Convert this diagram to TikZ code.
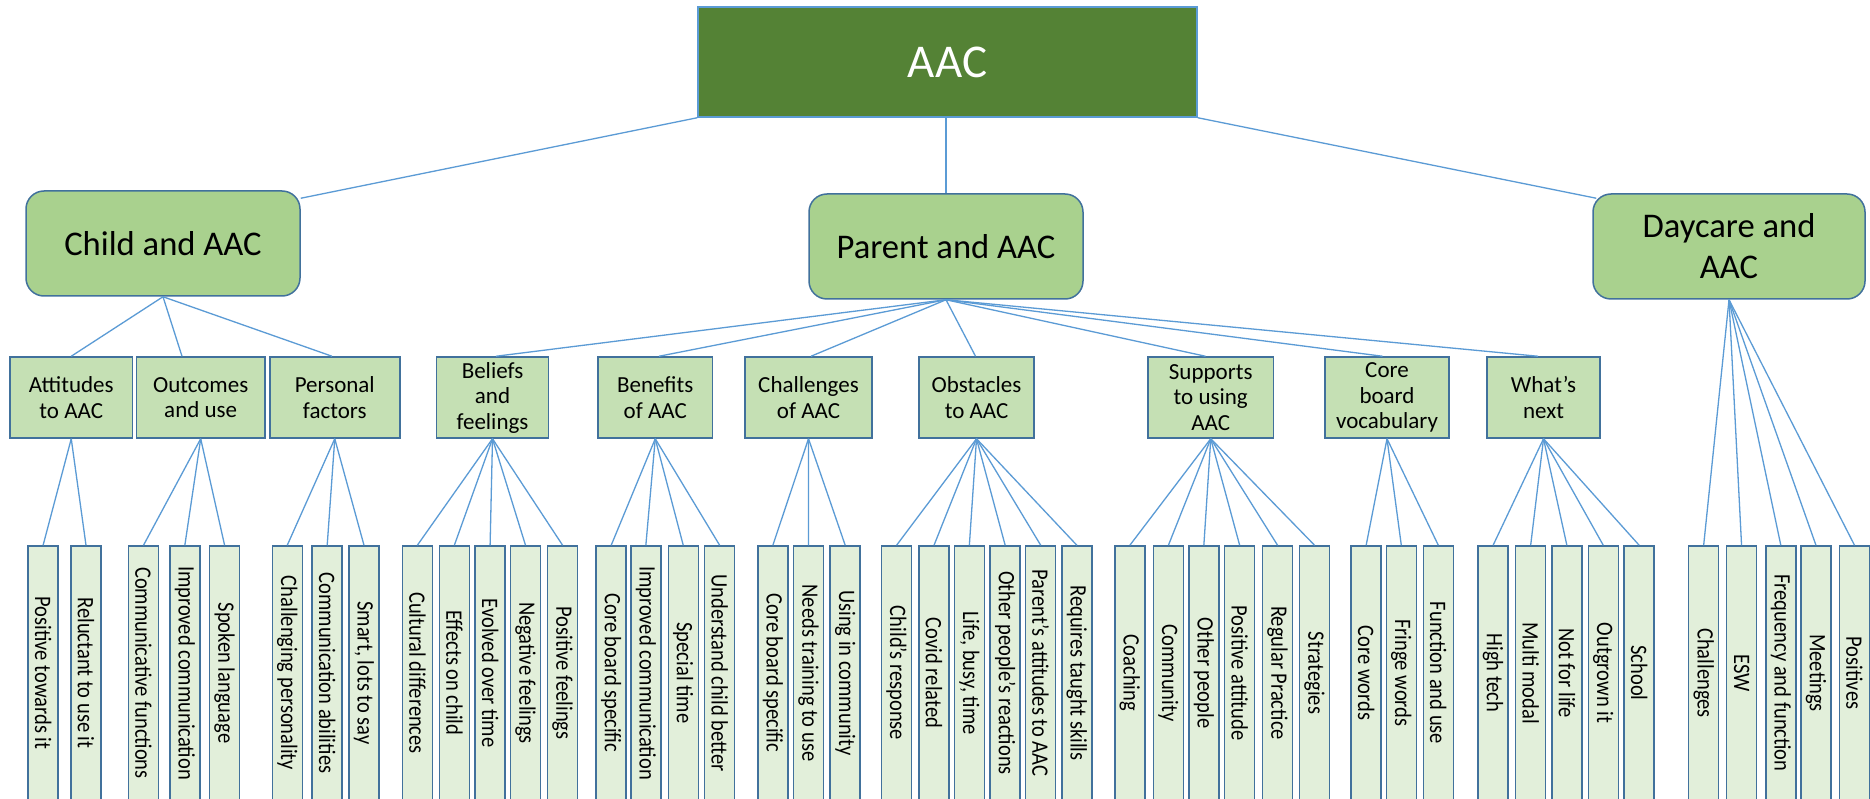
\documentclass[tikz,border=0pt]{standalone}
\usepackage{fontspec}
\setmainfont{Carlito}
\definecolor{rootg}{HTML}{548235}
\definecolor{lvone}{HTML}{A9D18E}
\definecolor{lvtwo}{HTML}{C5E0B4}
\definecolor{lvthree}{HTML}{E2EFDA}
\definecolor{bord}{HTML}{41719C}
\definecolor{conn}{HTML}{5B9BD5}
\begin{document}
\begin{tikzpicture}[x=1pt,y=-1pt,
  rootbox/.style={draw=conn, fill=rootg, line width=1.5pt, minimum width=499pt, minimum height=110pt, inner sep=0pt, text=white, font=\fontsize{47}{56}\selectfont},
  topicbox/.style={draw=bord, fill=lvone, line width=1.5pt, rounded corners=18pt, minimum width=274pt, minimum height=105pt, inner sep=0pt, align=center, font=\fontsize{34.6}{41}\selectfont},
  subbox/.style={draw=bord, fill=lvtwo, line width=1.5pt, minimum height=81pt, inner sep=0pt, align=center, font=\fontsize{23}{25.5}\selectfont},
  leafbox/.style={draw=bord, fill=lvthree, line width=1.5pt, rotate=-90, minimum width=254pt, minimum height=30pt, inner sep=0pt, font=\fontsize{20.5}{24}\selectfont},
  link/.style={draw=conn, line width=1.3pt}
]
\useasboundingbox (0,0) rectangle (1870,799);
\fill[white] (0,0) rectangle (1870,799);
\clip (0,0) rectangle (1870,799);

% root and first level
\node[rootbox] (root) at (947.5,62) {AAC};
\node[topicbox] (child) at (163,243.5) {Child and AAC};
\node[topicbox] (parent) at (946,246.5) {Parent and AAC};
\node[topicbox, minimum width=272pt] (daycare) at (1729,246.5) {Daycare and\\AAC};

% second level
\node[subbox, minimum width=122.5pt] (att) at (71.25,397.5) {Attitudes\\to AAC};
\node[subbox, minimum width=128.6pt] (out) at (200.7,397.5) {Outcomes\\and use};
\node[subbox, minimum width=130pt] (per) at (334.75,397.5) {Personal\\factors};
\node[subbox, minimum width=112pt] (bel) at (492.5,397.5) {Beliefs\\and\\feelings};
\node[subbox, minimum width=114.5pt] (ben) at (655.25,397.5) {Benefits\\of AAC};
\node[subbox, minimum width=127pt] (cha) at (808.5,397.5) {Challenges\\of AAC};
\node[subbox, minimum width=115pt] (obs) at (976.5,397.5) {Obstacles\\to AAC};
\node[subbox, minimum width=125.5pt] (sup) at (1210.75,397.5) {Supports\\to using\\AAC};
\node[subbox, minimum width=124pt] (cor) at (1387,397.5) {Core\\board\\vocabulary};
\node[subbox, minimum width=113pt] (wha) at (1543.5,397.5) {What’s\\next};

% third level
\foreach \n/\x/\t in {
  l1/43.1/{Positive towards it},
  l2/86/{Reluctant to use it},
  l3/143.5/{Communicative functions},
  l4/184.85/{Improved communication},
  l5/224.6/{Spoken language},
  l6/287.25/{Challenging personality},
  l7/327.2/{Communication abilities},
  l8/364/{Smart, lots to say},
  l9/417.35/{Cultural differences},
  l10/454.35/{Effects on child},
  l11/490.1/{Evolved over time},
  l12/525.5/{Negative feelings},
  l13/562.6/{Positive feelings},
  l14/611.2/{Core board specific},
  l15/645.85/{Improved communication},
  l16/683.25/{Special time},
  l17/719.65/{Understand child better},
  l18/772.85/{Core board specific},
  l19/808.4/{Needs training to use},
  l20/845.2/{Using in community},
  l21/896.6/{Child’s response},
  l22/934/{Covid related},
  l23/969.35/{Life, busy, time},
  l24/1005.15/{Other people’s reactions},
  l25/1040.7/{Parent’s attitudes to AAC},
  l26/1076.85/{Requires taught skills},
  l27/1129.85/{Coaching},
  l28/1168.4/{Community},
  l29/1203.85/{Other people},
  l30/1239.65/{Positive attitude},
  l31/1277.55/{Regular Practice},
  l32/1314.55/{Strategies},
  l33/1366.15/{Core words},
  l34/1401.3/{Fringe words},
  l35/1438.3/{Function and use},
  l36/1493.1/{High tech},
  l37/1530.65/{Multi modal},
  l38/1566.85/{Not for life},
  l39/1603.25/{Outgrown it},
  l40/1639.15/{School},
  l41/1703.65/{Challenges},
  l42/1741.55/{ESW},
  l43/1780.8/{Frequency and function},
  l44/1815.95/{Meetings},
  l45/1854.5/{Positives}}
  {\node[leafbox] (\n) at (\x,673) {\scalebox{1}[1.15]{\t}};}

% connectors: root to first level
\draw[link] (root.south west) -- ([yshift=-8pt]child.north east);
\draw[link] (root.south -| parent.north) -- (parent.north);
\draw[link] (root.south east) -- ([xshift=4pt,yshift=-5pt]daycare.north west);

% first to second level
\draw[link] (child.south) -- (att.north);
\draw[link] (child.south) -- ([xshift=-18.7pt]out.north);
\draw[link] (child.south) -- ([xshift=-2.75pt]per.north);
\draw[link] (parent.south) -- ([xshift=3.5pt]bel.north);
\draw[link] (parent.south) -- ([xshift=3.75pt]ben.north);
\draw[link] (parent.south) -- ([xshift=2.5pt]cha.north);
\draw[link] (parent.south) -- ([xshift=-1pt]obs.north);
\draw[link] (parent.south) -- ([xshift=-5.25pt]sup.north);
\draw[link] (parent.south) -- ([xshift=-4.5pt]cor.north);
\draw[link] (parent.south) -- ([xshift=-5.5pt]wha.north);

% second to third level
\foreach \p/\c in {att/l1, att/l2, out/l3, out/l4, out/l5, per/l6, per/l7, per/l8,
  bel/l9, bel/l10, bel/l11, bel/l12, bel/l13, ben/l14, ben/l15, ben/l16, ben/l17,
  cha/l18, cha/l19, cha/l20, obs/l21, obs/l22, obs/l23, obs/l24, obs/l25, obs/l26,
  sup/l27, sup/l28, sup/l29, sup/l30, sup/l31, sup/l32, cor/l33, cor/l34, cor/l35,
  wha/l36, wha/l37, wha/l38, wha/l39, wha/l40,
  daycare/l41, daycare/l42, daycare/l43, daycare/l44, daycare/l45}
  {\draw[link] (\p.south) -- (\c.west);}
\end{tikzpicture}
\end{document}
